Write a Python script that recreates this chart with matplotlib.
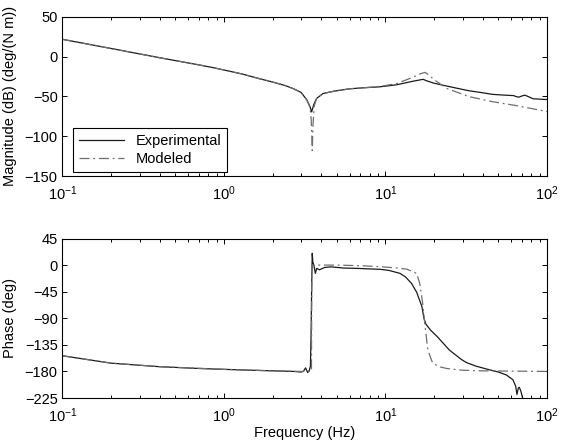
import matplotlib
matplotlib.use('Agg')
import matplotlib.pyplot as plt

plt.rcParams['font.family'] = ['Liberation Sans', 'DejaVu Sans']
plt.rcParams['mathtext.default'] = 'regular'
plt.rcParams['font.size'] = 10.5

# magnitude, measured
f_mag_exp = [0.1, 0.2, 0.4, 0.7, 0.85, 1.0, 1.3, 1.67, 2.0, 2.4, 2.7, 3.0, 3.26, 3.41,
             3.49, 3.6, 3.75, 4.1, 4.8, 6.0, 7.6, 9.25, 11.7, 14.8, 16.2, 17.1, 18.0,
             20.0, 23.9, 28.0, 33.0, 40.0, 46.0, 55.0, 62.0, 65.0, 67.0, 70.0, 73.0,
             77.0, 82.0, 90.0, 100.0]
mag_exp = [21.6, 10.1, -1.5, -10.5, -13.8, -16.9, -22.0, -28.0, -32.0, -36.5, -40.5,
           -45.0, -54.5, -63.0, -69.5, -60.0, -52.5, -46.5, -43.5, -40.5, -39.0, -38.0,
           -35.5, -31.0, -29.5, -28.6, -30.5, -33.5, -37.0, -40.0, -43.0, -45.5, -47.5,
           -48.5, -49.0, -50.5, -51.0, -49.5, -48.5, -50.5, -53.0, -53.5, -54.0]

# magnitude, model
f_mag_mod = [0.1, 0.2, 0.4, 0.7, 0.85, 1.0, 1.3, 1.67, 2.0, 2.4, 2.7, 3.0, 3.26, 3.41,
             3.47, 3.52, 3.56, 3.62, 3.75, 4.1, 4.8, 6.0, 7.6, 9.25, 11.7, 14.8, 16.5,
             17.6, 18.5, 20.0, 23.9, 33.0, 46.0, 65.0, 100.0]
mag_mod = [21.6, 10.1, -1.5, -10.5, -13.8, -16.9, -22.0, -28.0, -32.0, -36.5, -40.5,
           -45.0, -54.5, -64.0, -80.0, -118.0, -85.0, -62.0, -52.5, -46.5, -43.5, -40.5,
           -39.0, -37.5, -34.0, -26.0, -21.5, -19.9, -23.0, -29.0, -40.0, -50.4, -56.7,
           -61.7, -69.0]

# phase, measured
f_ph_exp = [0.1, 0.2, 0.4, 0.7, 1.0, 1.5, 2.0, 2.7, 3.0, 3.1, 3.2, 3.3, 3.38, 3.43,
            3.46, 3.49, 3.52, 3.55, 3.6, 3.68, 3.75, 3.9, 4.2, 4.6, 5.5, 6.6, 8.0, 9.25,
            10.5, 12.3, 13.3, 14.5, 15.6, 16.8, 17.3, 17.8, 19.0, 20.9, 24.9, 29.6,
            31.7, 36.3, 42.3, 50.0, 56.0, 61.5, 64.0, 65.2, 66.5, 67.5, 69.0, 71.0]
ph_exp = [-153.5, -166, -172, -175, -176.5, -178, -179, -180, -181, -180, -174, -182,
          -178, -171, -120, -40, 20, 5, 0, -14, -5.5, -8, -4, -3, -5, -5.5, -6.5, -7.1,
          -9, -14, -20, -31, -46, -70, -90, -100, -110, -121, -144, -160, -165, -171,
          -176, -181, -186, -194, -205, -219, -208, -207, -214, -227]

# phase, model
f_ph_mod = [0.1, 0.2, 0.4, 1.0, 2.0, 3.0, 3.48, 3.5, 5.0, 7.0, 9.25, 12.0, 13.6, 15.6,
            16.3, 17.0, 17.6, 18.3, 19.6, 21.5, 23.9, 30.0, 38.5, 100.0]
ph_mod = [-153.5, -166, -172, -176.5, -179, -180, -180, 0, 0, -1, -2.7, -5, -7, -14,
          -31, -65, -104, -144, -166, -172, -175, -178, -179, -180]

exp_style = dict(color='#1a1a1a', lw=0.9, linestyle='-')
mod_style = dict(color='#6e6e6e', lw=0.9, linestyle=(0, (8, 3, 1.5, 3)))

fig = plt.figure(figsize=(5.61, 4.48), dpi=100)
ax1 = fig.add_axes([0.1114, 0.6071, 0.8636, 0.3556])
ax2 = fig.add_axes([0.1114, 0.1116, 0.8636, 0.3560])

ax1.semilogx(f_mag_exp, mag_exp, label='Experimental', **exp_style)
ax1.semilogx(f_mag_mod, mag_mod, label='Modeled', **mod_style)
ax1.set_ylim(-150, 50)
ax1.set_yticks([50, 0, -50, -100, -150])
ax1.set_ylabel('Magnitude (dB) (deg/(N m))')

ax2.semilogx(f_ph_exp, ph_exp, **exp_style)
ax2.semilogx(f_ph_mod, ph_mod, **mod_style)
ax2.set_ylim(-225, 45)
ax2.set_yticks([45, 0, -45, -90, -135, -180, -225])
ax2.set_ylabel('Phase (deg)')
ax2.set_xlabel('Frequency (Hz)', labelpad=1)

for ax in (ax1, ax2):
    ax.set_xlim(0.1, 100)
    ax.tick_params(which='both', direction='in', top=True, right=True, width=0.7)
    ax.tick_params(which='major', length=3.6)
    ax.tick_params(which='minor', length=2.2)
    ax.tick_params(axis='x', which='major', pad=6)
    for s in ax.spines.values():
        s.set_linewidth(0.8)
    ax.yaxis.set_label_coords(-0.094, 0.5)

leg = ax1.legend(loc='lower left', bbox_to_anchor=(0.022, 0.025), borderaxespad=0,
                 fancybox=False, edgecolor='black', framealpha=1, handlelength=3.1,
                 borderpad=0.4, labelspacing=0.3)
leg.get_frame().set_linewidth(0.8)

fig.savefig('out.png', dpi=100)
